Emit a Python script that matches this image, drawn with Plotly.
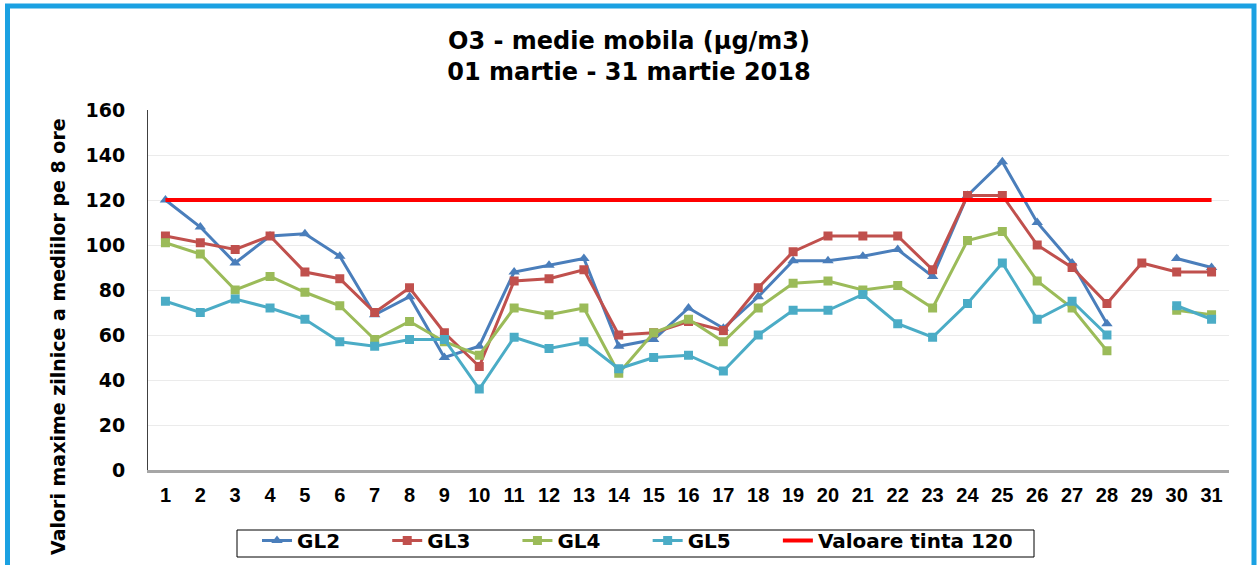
import plotly.graph_objects as go

days = [str(d) for d in range(1, 32)]

gl2 = [120, 108, 92, 104, 105, 95, 69, 77, 50, 55, 88, 91, 94, 55, 58, 72, 63, 77, 93, 93,
       95, 98, 86, 122, 137, 110, 92, 65, None, 94, 90]
gl3 = [104, 101, 98, 104, 88, 85, 70, 81, 61, 46, 84, 85, 89, 60, 61, 66, 62, 81, 97, 104,
       104, 104, 89, 122, 122, 100, 90, 74, 92, 88, 88]
gl4 = [101, 96, 80, 86, 79, 73, 58, 66, 57, 51, 72, 69, 72, 43, 61, 67, 57, 72, 83, 84,
       80, 82, 72, 102, 106, 84, 72, 53, None, 71, 69]
gl5 = [75, 70, 76, 72, 67, 57, 55, 58, 58, 36, 59, 54, 57, 45, 50, 51, 44, 60, 71, 71,
       78, 65, 59, 74, 92, 67, 75, 60, None, 73, 67]
target = [120] * 31

WIDE = "DejaVu Sans, Verdana, sans-serif"
ARIAL = "Liberation Sans, Arial, sans-serif"

# plot-area pixel geometry
W, H = 1258, 565
L, R, T, B = 148, 29, 110, 95
PW, PH = W - L - R, H - T - B


def px(x):
    return (x - L) / PW


def py(y):
    return (H - B - y) / PH


PAD = "&nbsp;" * 6 + "\u2009"

fig = go.Figure()
series = [
    ("GL2", gl2, "#4A7EBB", "triangle-up", 10),
    ("GL3", gl3, "#C0504D", "square", 9),
    ("GL4", gl4, "#9BBB59", "square", 9),
    ("GL5", gl5, "#4BACC6", "square", 9),
]
for name, vals, col, sym, sz in series:
    fig.add_trace(go.Scatter(
        x=days, y=vals, name="<b>" + name + "</b>" + PAD, mode="lines+markers",
        line=dict(color=col, width=3),
        marker=dict(symbol=sym, size=sz, color=col),
        connectgaps=False,
    ))
fig.add_trace(go.Scatter(
    x=days, y=target, name="<b>Valoare tinta 120</b>", mode="lines",
    line=dict(color="#FF0000", width=4),
))

fig.update_layout(
    width=W, height=H,
    margin=dict(l=L, r=R, t=T, b=B),
    paper_bgcolor="white", plot_bgcolor="white",
    font=dict(family=WIDE, color="#000000"),
    title=dict(
        text="<b>O3 - medie mobila (µg/m3)<br>01 martie - 31 martie 2018</b>",
        x=0.5, xanchor="center", xref="container",
        y=1 - 49 / H, yanchor="middle", yref="container",
        font=dict(size=24, family=WIDE, color="#000000"),
    ),
    xaxis=dict(
        type="category", range=[-0.5, 30.5],
        showgrid=False, showline=True, linecolor="#A6A6A6", linewidth=3,
        ticks="", tickfont=dict(size=20, family=ARIAL, color="#000000"),
        tickprefix="<b>", ticksuffix="</b>", ticklabelstandoff=5,
    ),
    yaxis=dict(
        range=[0, 160], dtick=20, showgrid=True, gridcolor="#EBEBEB", gridwidth=1,
        showline=True, linecolor="#404040", linewidth=1, zeroline=False,
        ticks="", tickfont=dict(size=19, family=WIDE, color="#000000"),
        tickprefix="<b>", ticksuffix="</b>", ticklabelstandoff=18,
    ),
    legend=dict(
        orientation="h", x=px(257), xanchor="left", xref="paper",
        y=1 - 521 / H, yanchor="top", yref="container",
        borderwidth=0, bgcolor="rgba(0,0,0,0)",
        font=dict(size=20, family=WIDE, color="#000000"),
        traceorder="normal",
    ),
    showlegend=True,
)

# y-axis title (placed like the reference, slightly below the plot centre)
fig.add_annotation(
    text="<b>Valori maxime zilnice a mediilor pe 8 ore</b>",
    xref="paper", yref="paper", x=px(58), y=py(337),
    xanchor="center", yanchor="middle", textangle=-90, showarrow=False,
    font=dict(size=19, family=WIDE, color="#000000"),
)

# legend frame
fig.add_shape(type="rect", xref="paper", yref="paper",
              x0=px(237), x1=px(1034), y0=py(557), y1=py(530),
              line=dict(color="#000000", width=1), fillcolor="rgba(0,0,0,0)",
              layer="below")
# outer blue frame
fig.add_shape(type="rect", xref="paper", yref="paper",
              x0=px(7.5), x1=px(1254), y0=py(600), y1=py(6),
              line=dict(color="#1BA1E2", width=5), fillcolor="rgba(0,0,0,0)",
              layer="above")

fig.write_html("out.html", config={"displayModeBar": False},
               post_script="document.body.style.margin='0px';")
